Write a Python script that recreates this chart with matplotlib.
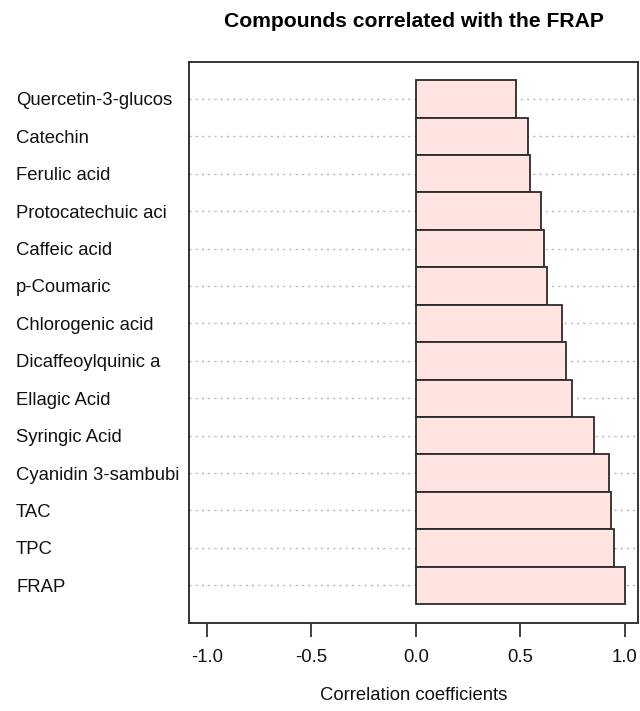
import numpy as np
import matplotlib.pyplot as plt
from matplotlib.transforms import blended_transform_factory

plt.rcParams['font.family'] = ['Liberation Sans', 'DejaVu Sans']

# top to bottom as shown in the chart
compounds = ["Quercetin-3-glucos", "Catechin", "Ferulic acid", "Protocatechuic aci",
             "Caffeic acid", "p-Coumaric", "Chlorogenic acid", "Dicaffeoylquinic a",
             "Ellagic Acid", "Syringic Acid", "Cyanidin 3-sambubi", "TAC", "TPC", "FRAP"]
corr = [0.481, 0.539, 0.545, 0.601, 0.614, 0.627, 0.699, 0.718,
        0.746, 0.855, 0.925, 0.936, 0.949, 1.0]
xticks = [-1.0, -0.5, 0.0, 0.5, 1.0]

fig = plt.figure(figsize=(6.4, 7.11), dpi=100)
ax = fig.add_axes([189 / 640, 1 - 622.7 / 711, (638 - 189) / 640, (622.7 - 61.5) / 711])

n = len(compounds)
ypos = np.arange(n)[::-1]

for y in ypos:
    ax.axhline(y, color='#b8b8b8', linestyle=(0, (1.5, 3)), linewidth=1.0, zorder=1)

ax.barh(ypos, corr, height=1.0, color='#ffe4e1', edgecolor='#2b2b2b',
        linewidth=1.3, zorder=2)

ax.set_xlim(-1.085, 1.064)
ax.set_ylim(-1.0, 14.0)

ax.set_yticks([])
ax.set_xticks(xticks)
ax.set_xticklabels([f"{t:.1f}" for t in xticks], fontsize=13.3, color='#111111')
ax.tick_params(axis='x', length=10, width=1.2, color='#222222', pad=9)

for s in ax.spines.values():
    s.set_linewidth(1.4)
    s.set_color('#333333')

trans = blended_transform_factory(fig.transFigure, ax.transData)
for lab, y in zip(compounds, ypos):
    ax.text(16 / 640, y, lab, transform=trans, ha='left', va='center_baseline',
            fontsize=13.3, color='#111111')

ax.set_xlabel("Correlation coefficients", fontsize=13.3, color='#111111', labelpad=15)
ax.set_title("Compounds correlated with the FRAP", fontsize=15.2,
             fontweight='bold', pad=25)

fig.savefig("out.png", dpi=100)
